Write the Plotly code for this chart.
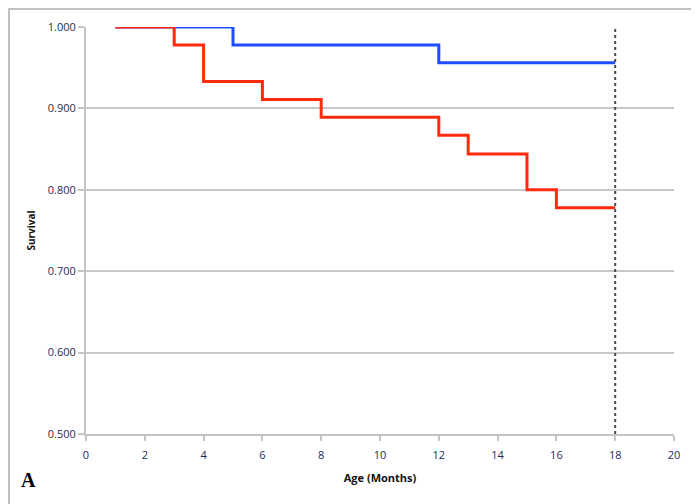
import plotly.graph_objects as go

# Data
red_months = [1, 3, 4, 6, 8, 12, 13, 15, 16, 18]
red_survival = [1.000, 0.978, 0.933, 0.911, 0.889, 0.867, 0.844, 0.800, 0.778, 0.778]
blue_months = [1, 5, 12, 18]
blue_survival = [1.000, 0.978, 0.956, 0.956]
cutoff_month = [18, 18]
cutoff_range = [0.5, 1.0]
x_ticks = list(range(0, 21, 2))
y_ticks = [0.5, 0.6, 0.7, 0.8, 0.9, 1.0]

W, H = 699, 504
OFF = 8  # page offset
L, T = 86 - OFF, 27 - OFF
pw, ph = 588, 407
R, B = W - L - pw, H - T - ph

fig = go.Figure()
fig.add_trace(go.Scatter(x=blue_months, y=blue_survival, mode="lines",
                         line=dict(color="#1f4cff", width=3, shape="hv"),
                         showlegend=False, hoverinfo="skip"))
fig.add_trace(go.Scatter(x=red_months, y=red_survival, mode="lines",
                         line=dict(color="#ff2a0c", width=3, shape="hv"),
                         showlegend=False, hoverinfo="skip"))
fig.add_trace(go.Scatter(x=cutoff_month, y=cutoff_range, mode="lines",
                         line=dict(color="#4a4a4a", width=2, dash="dot"),
                         showlegend=False, hoverinfo="skip"))

fig.update_layout(
    width=W, height=H,
    margin=dict(l=L, r=R, t=T, b=B),
    paper_bgcolor="white", plot_bgcolor="white",
    font=dict(family="Open Sans, DejaVu Sans, sans-serif"),
    xaxis=dict(range=[0, 20], tickvals=x_ticks, showgrid=False, zeroline=False,
               showline=True, linecolor="#c4c4c4", linewidth=2,
               ticks="outside", ticklen=5, tickcolor="#c4c4c4", tickwidth=2,
               ticklabelstandoff=5,
               tickfont=dict(size=11, color="#1f2a5a", family="Open Sans"),
               title=dict(text="<b>Age (Months)</b>", font=dict(size=11, color="#111111"),
                          standoff=13)),
    yaxis=dict(range=[0.5, 1.0], tickvals=y_ticks, tickformat=".3f",
               showgrid=True, gridcolor="#c8c8c8", gridwidth=2, zeroline=False,
               showline=True, linecolor="#c4c4c4", linewidth=2,
               ticks="outside", ticklen=6, tickcolor="#c4c4c4", tickwidth=2,
               tickfont=dict(size=11, color="#1f2a5a", family="Open Sans"),
               title=dict(text="<b>Survival</b>", font=dict(size=10, color="#111111"),
                          standoff=10)),
)

# outer frame lines (top and left)
fy = 1 + (T - 0.5) / ph
fx = (0.5 - L) / pw
fig.add_shape(type="line", xref="paper", yref="paper",
              x0=fx, x1=(W - L) / pw, y0=fy, y1=fy,
              line=dict(color="#c0c0c0", width=3))
fig.add_shape(type="line", xref="paper", yref="paper",
              x0=fx, x1=fx, y0=fy, y1=-(B) / ph,
              line=dict(color="#c0c0c0", width=3))

fig.add_annotation(text="<b>A</b>", xref="paper", yref="paper",
                   x=(28 - OFF - L) / pw, y=-(480 - OFF - (T + ph)) / ph, showarrow=False,
                   xanchor="center", yanchor="middle",
                   font=dict(family="Liberation Serif, DejaVu Serif, serif", size=20, color="#000000"))

fig.write_html("out.html")
